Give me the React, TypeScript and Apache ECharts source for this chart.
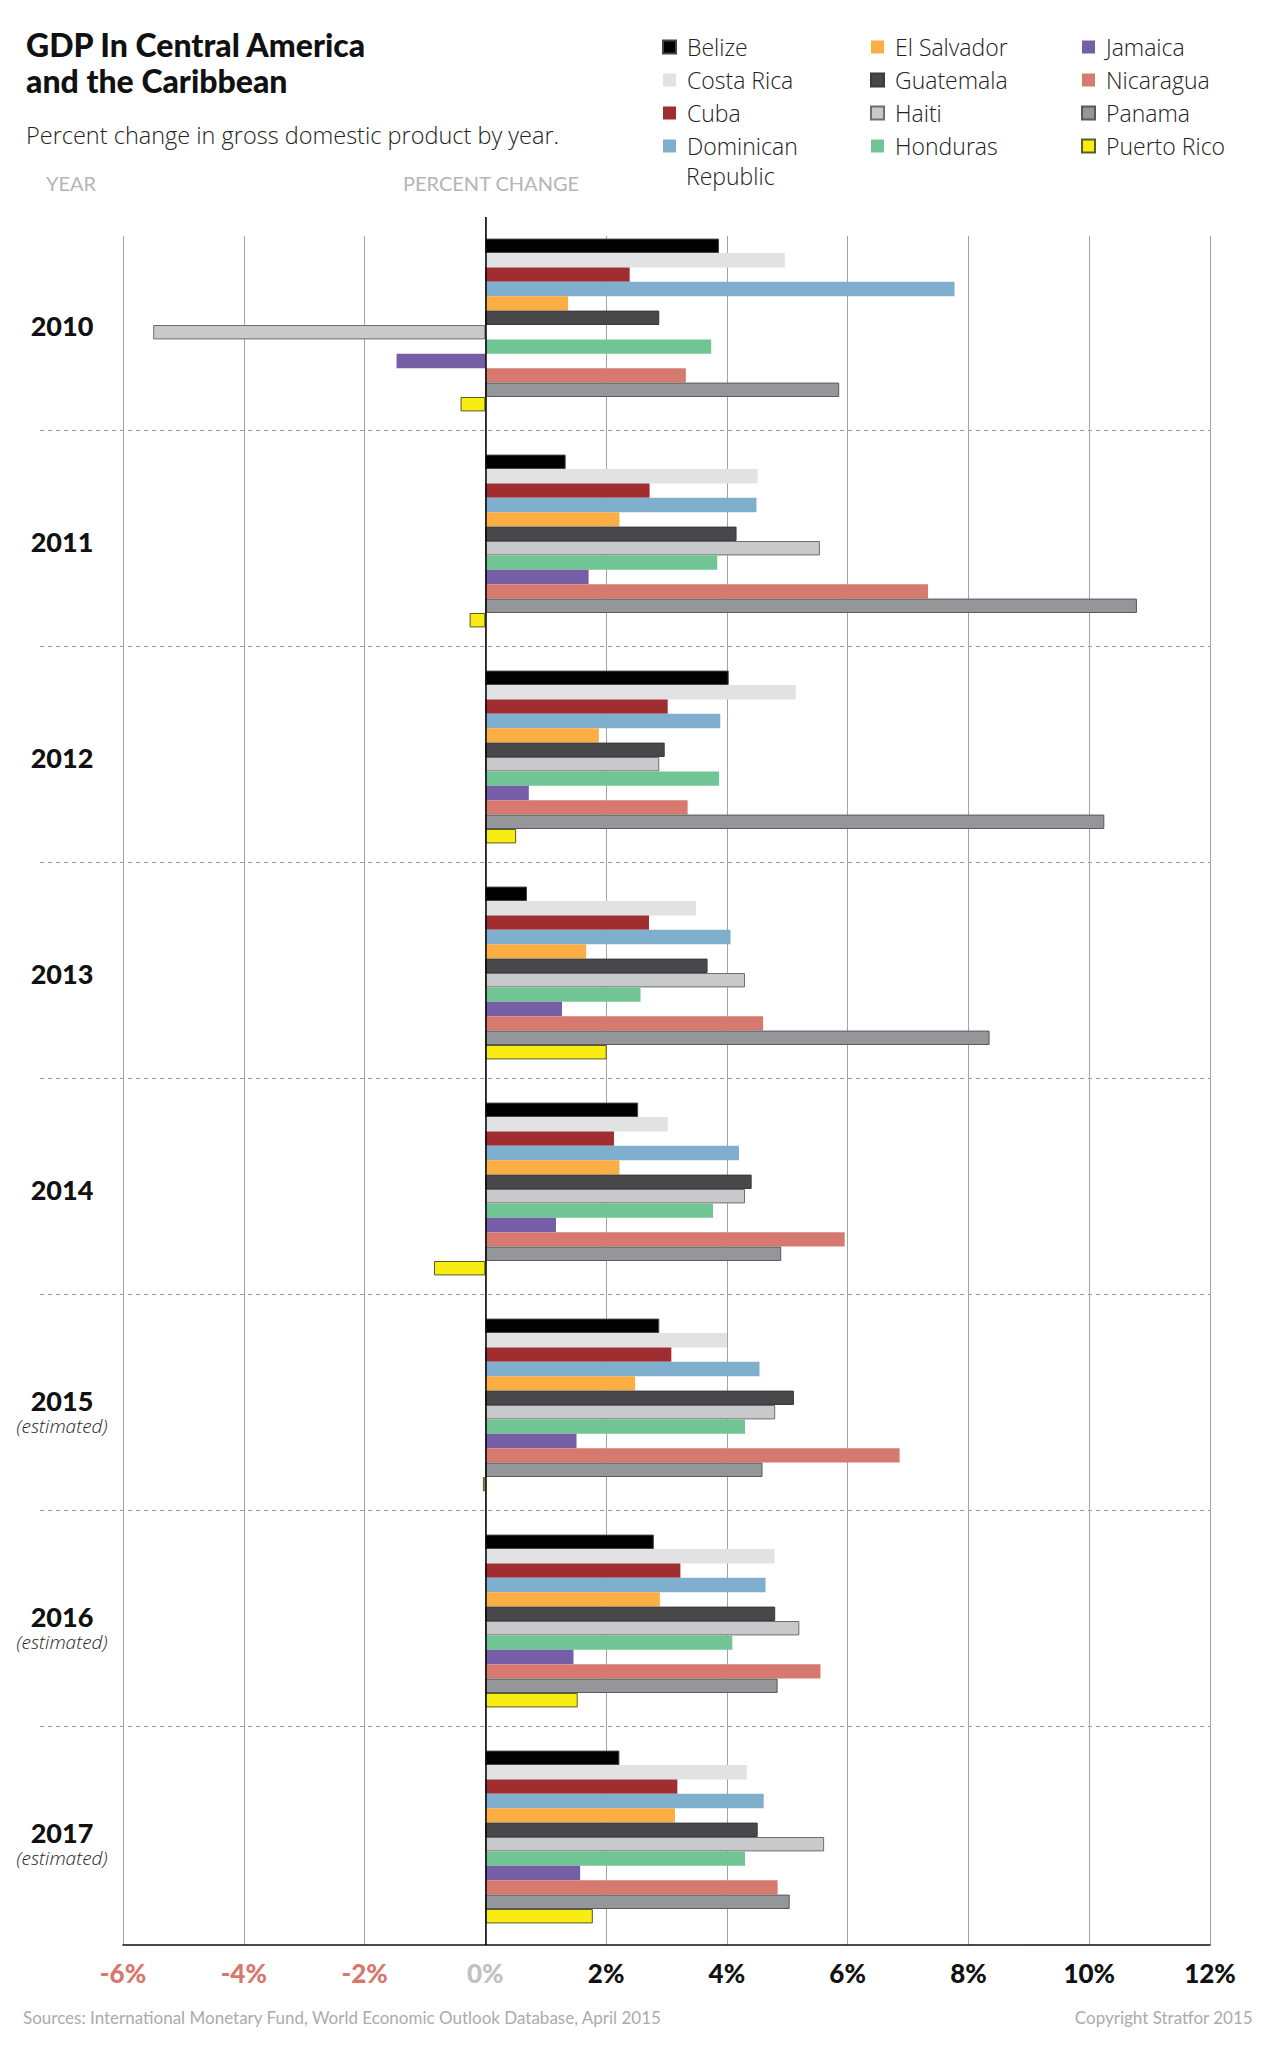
import React, { useEffect, useRef } from 'react';
import * as echarts from 'echarts';

const years = ['2010', '2011', '2012', '2013', '2014', '2015', '2016', '2017'];
const estimatedYears = ['2015', '2016', '2017'];

const countries = [
  'Belize', 'Costa Rica', 'Cuba', 'Dominican Republic',
  'El Salvador', 'Guatemala', 'Haiti', 'Honduras',
  'Jamaica', 'Nicaragua', 'Panama', 'Puerto Rico',
];

const belize = [3.87, 1.33, 4.03, 0.69, 2.53, 2.88, 2.79, 2.22];
const costaRica = [4.96, 4.51, 5.14, 3.49, 3.02, 4.0, 4.79, 4.33];
const cuba = [2.39, 2.72, 3.02, 2.71, 2.13, 3.08, 3.23, 3.18];
const dominicanRepublic = [7.77, 4.49, 3.89, 4.06, 4.2, 4.54, 4.64, 4.61];
const elSalvador = [1.37, 2.22, 1.88, 1.67, 2.22, 2.48, 2.89, 3.14];
const guatemala = [2.88, 4.16, 2.97, 3.68, 4.41, 5.11, 4.8, 4.51];
const haiti = [-5.5, 5.54, 2.88, 4.3, 4.3, 4.8, 5.2, 5.61];
const honduras = [3.74, 3.84, 3.87, 2.57, 3.77, 4.3, 4.09, 4.3];
const jamaica = [-1.47, 1.71, 0.72, 1.27, 1.17, 1.51, 1.46, 1.57];
const nicaragua = [3.32, 7.33, 3.35, 4.6, 5.95, 6.86, 5.55, 4.84];
const panama = [5.86, 10.79, 10.25, 8.35, 4.9, 4.59, 4.84, 5.04];
const puertoRico = [-0.41, -0.26, 0.51, 2.01, -0.85, -0.04, 1.53, 1.78];

const seriesValues = [
  belize, costaRica, cuba, dominicanRepublic, elSalvador, guatemala,
  haiti, honduras, jamaica, nicaragua, panama, puertoRico,
];

const colors = [
  '#000000', '#e1e2e3', '#a02d2f', '#7fafcd', '#fbae43', '#48484a',
  '#c8c9cb', '#71c594', '#755ea6', '#d67a6f', '#959699', '#f8ec12',
];
const borders = [
  '#444444', '#e1e2e3', '#a02d2f', '#7fafcd', '#fbae43', '#3a3a3c',
  '#6d6e70', '#71c594', '#755ea6', '#d67a6f', '#58595b', '#5a5a2a',
];
const borderWidths = [1, 0, 0, 0, 0, 1, 1, 0, 0, 0, 1, 1];

const xMin = -6;
const xMax = 12;
const xInterval = 2;

const separators = [1, 2, 3, 4, 5, 6, 7];

const legendColumns = [
  ['Belize', 'Costa Rica', 'Cuba', 'Dominican Republic'],
  ['El Salvador', 'Guatemala', 'Haiti', 'Honduras'],
  ['Jamaica', 'Nicaragua', 'Panama', 'Puerto Rico'],
];

const FONT = 'Lato, "Open Sans", sans-serif';
const LIGHT = '"Open Sans", Lato, sans-serif';

export default function App() {
  const ref = useRef<HTMLDivElement>(null);

  useEffect(() => {
    document.body.style.margin = '0';
    if (!ref.current) return;
    const chart = echarts.init(ref.current, undefined, { renderer: 'svg' });

    const legendText = {
      fontFamily: LIGHT,
      fontWeight: 300,
      fontSize: 23,
      color: '#222',
      lineHeight: 24,
      padding: [0, 0, 0, 6],
    };

    const legendLefts = [662, 870, 1081];

    const option: any = {
      animation: false,
      backgroundColor: '#ffffff',
      title: [
        {
          text: 'GDP In Central America\nand the Caribbean',
          left: 26, top: 26, padding: 0,
          textStyle: { fontFamily: FONT, fontWeight: 900, fontSize: 32, lineHeight: 36, color: '#111' },
        },
        {
          text: 'Percent change in gross domestic product by year.',
          left: 26, top: 122, padding: 0,
          textStyle: { fontFamily: LIGHT, fontWeight: 300, fontSize: 23.5, lineHeight: 26, color: '#222' },
        },
        {
          text: 'YEAR',
          left: 46, top: 172, padding: 0,
          textStyle: { fontFamily: FONT, fontWeight: 'normal', fontSize: 20, lineHeight: 22, color: '#b5b5b5' },
        },
        {
          text: 'PERCENT CHANGE',
          left: 403, top: 172, padding: 0,
          textStyle: { fontFamily: FONT, fontWeight: 'normal', fontSize: 20, lineHeight: 22, color: '#b5b5b5' },
        },
        {
          text: 'Sources: International Monetary Fund, World Economic Outlook Database, April 2015',
          left: 23, top: 2007, padding: 0,
          textStyle: { fontFamily: FONT, fontWeight: 'normal', fontSize: 17, lineHeight: 20, color: '#ababab' },
        },
        {
          text: 'Copyright Stratfor 2015',
          right: 27, top: 2007, padding: 0,
          textStyle: { fontFamily: FONT, fontWeight: 'normal', fontSize: 17, lineHeight: 20, color: '#ababab' },
        },
      ],
      legend: legendColumns.map((col, i) => ({
        show: true,
        orient: 'vertical',
        left: legendLefts[i],
        top: 35,
        padding: 0,
        itemWidth: 13,
        itemHeight: 13,
        itemGap: 9,
        icon: 'rect',
        selectedMode: false,
        data: col,
        textStyle: legendText,
        formatter: (name: string) => (name === 'Dominican Republic' ? 'Dominican' : name),
      })),
      graphic: [
        {
          type: 'text',
          x: 686, y: 176,
          style: { text: 'Republic', fontFamily: LIGHT, fontWeight: 300, fontSize: 23, lineHeight: 22, fill: '#222', verticalAlign: 'middle', align: 'left' },
        },
        { type: 'rect', z: 100, shape: { x: 116, y: 215, width: 367, height: 21 }, style: { fill: '#ffffff' } },
        { type: 'rect', z: 100, shape: { x: 489, y: 215, width: 730, height: 21 }, style: { fill: '#ffffff' } },
      ],
      grid: [
        { left: 123, top: 217, width: 1087, height: 1728, containLabel: false },
        { left: 40, top: 214, width: 1170, height: 1728, containLabel: false },
      ],
      xAxis: [
        {
          type: 'value',
          gridIndex: 0,
          min: xMin,
          max: xMax,
          interval: xInterval,
          position: 'bottom',
          axisLine: { show: true, onZero: false, lineStyle: { color: '#111', width: 1.5 } },
          axisTick: { show: false },
          splitLine: { show: true, lineStyle: { color: '#a3a3a3', width: 1 } },
          axisLabel: {
            formatter: (v: number) => `${v}%`,
            color: (v: any) => {
              const n = Number(v);
              return n < 0 ? '#d6786e' : n === 0 ? '#c0c0c0' : '#111';
            },
            fontFamily: FONT,
            fontWeight: 900,
            fontSize: 26,
            margin: 15,
          },
        },
        { type: 'value', gridIndex: 1, min: 0, max: 1, show: false },
      ],
      yAxis: [
        {
          type: 'category',
          gridIndex: 0,
          data: years,
          inverse: true,
          axisLine: { show: false },
          axisTick: { show: false },
          splitLine: { show: false },
          axisLabel: {
            margin: 61,
            align: 'center',
            formatter: (v: string) =>
              estimatedYears.includes(v) ? `{ye|${v}}\n{e|(estimated)}` : `{y|${v}}`,
            rich: {
              y: { fontFamily: FONT, fontWeight: 900, fontSize: 27, lineHeight: 30, color: '#111', align: 'center' },
              ye: { fontFamily: FONT, fontWeight: 900, fontSize: 27, lineHeight: 42, verticalAlign: 'bottom', color: '#111', align: 'center' },
              e: { fontFamily: LIGHT, fontStyle: 'italic', fontWeight: 300, fontSize: 19, lineHeight: 24, color: '#222', align: 'center' },
            },
          },
        },
        { type: 'value', gridIndex: 1, min: 0, max: years.length, inverse: true, show: false },
      ],
      series: [
        ...countries.map((name, i) => ({
          name,
          type: 'bar',
          xAxisIndex: 0,
          yAxisIndex: 0,
          data: seriesValues[i],
          barGap: '0%',
          barCategoryGap: '20%',
          itemStyle: {
            color: colors[i],
            borderColor: borders[i],
            borderWidth: borderWidths[i],
          },
          markLine: i === countries.length - 1
            ? {
                silent: true,
                symbol: 'none',
                z: 10,
                label: { show: false },
                lineStyle: { color: '#000', width: 1.5, type: 'solid' },
                data: [{ xAxis: 0 }],
              }
            : undefined,
        })),
        {
          type: 'line',
          xAxisIndex: 1,
          yAxisIndex: 1,
          data: [],
          silent: true,
          markLine: {
            silent: true,
            symbol: 'none',
            label: { show: false },
            lineStyle: { color: '#9a9a9a', width: 1, type: [4, 4] },
            data: separators.map((v) => ({ yAxis: v })),
          },
        },
      ],
    };

    chart.setOption(option);
    return () => chart.dispose();
  }, []);

  return <div ref={ref} style={{ width: 1280, height: 2068 }} />;
}
